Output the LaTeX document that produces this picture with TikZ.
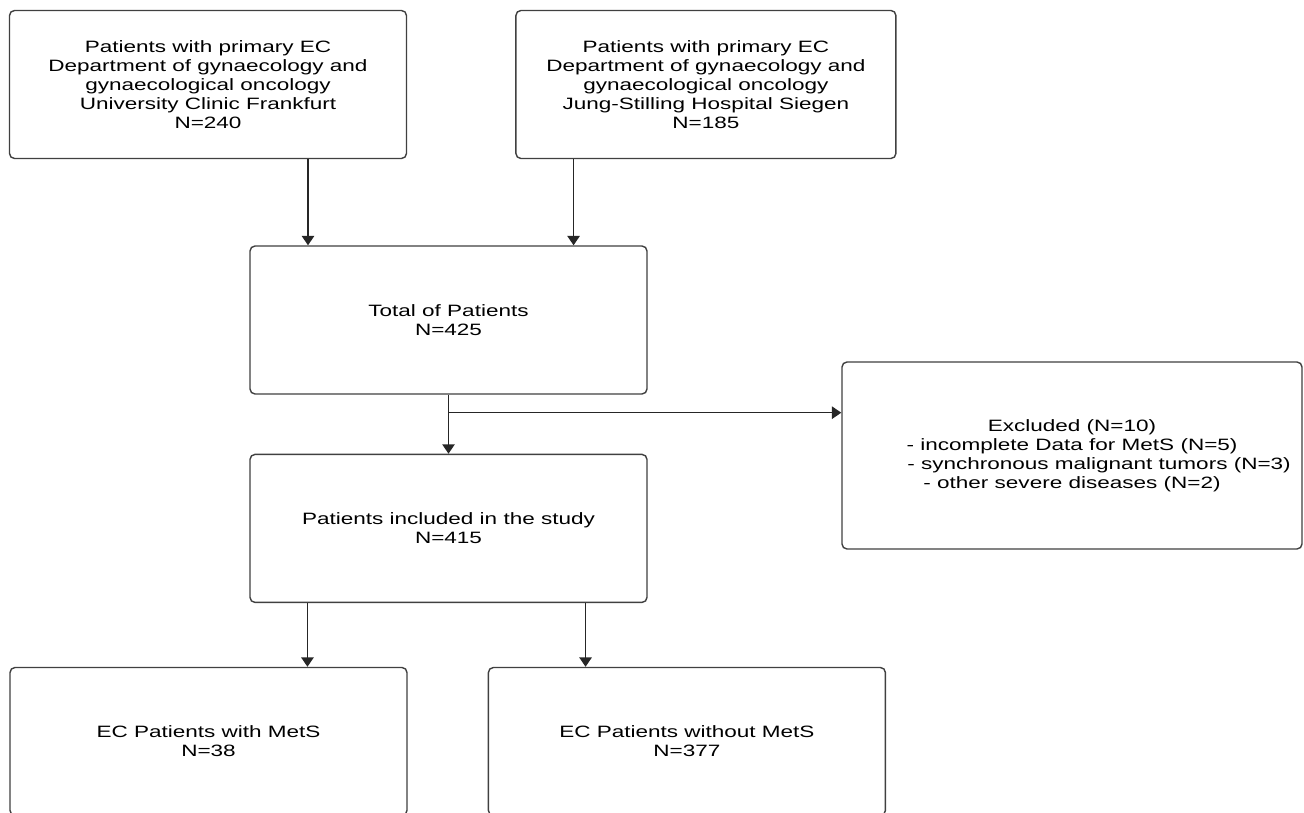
\documentclass[tikz,border=0pt]{standalone}
\usepackage{fontspec}
\setmainfont{Liberation Sans}[FakeStretch=1.37]
\usetikzlibrary{arrows.meta,positioning,calc}

\begin{document}
\begin{tikzpicture}[
        node distance=1.18cm and 2.16cm,
        every node/.style={draw=black!75, rounded corners=1mm, align=center, line width=0.8pt, fill=white, minimum width=7.94cm, minimum height=2.96cm, inner sep=2pt, font=\fontsize{9.35pt}{10.77pt}\selectfont},
        arr/.style={-{Triangle[length=5.3pt,width=7pt]}, line width=0.8pt, black!85}
    ]
    \useasboundingbox (0,0) rectangle (26.08,-16.26);
    \node (frankfurt) at (4.16,-1.69) {Patients with primary EC\\ Department of gynaecology and\\ gynaecological oncology\\ University Clinic Frankfurt\\ N=240};
    \node[minimum width=7.6cm] (siegen) [right=of frankfurt] {Patients with primary EC\\ Department of gynaecology and\\ gynaecological oncology\\ Jung-Stilling Hospital Siegen\\ N=185};
    \node (total) at (8.97,-6.40) {Total of Patients\\ N=425};
    \node (included) [below=of total] {Patients included in the study\\ N=415};
    \node[minimum width=9.2cm, minimum height=3.74cm] (excluded) at (21.44,-9.11) {Excluded (N=10)\\ - incomplete Data for MetS (N=5)\\ \hspace*{1.08cm}- synchronous malignant tumors (N=3)\\ - other severe diseases (N=2)};
    \node (withmets) at (4.17,-14.83) {EC Patients with MetS\\ N=38};
    \node (withoutmets) [right=1.6cm of withmets] {EC Patients without MetS\\ N=377};

    \coordinate (fa) at ($(frankfurt.south west)!0.751!(frankfurt.south east)$);
    \coordinate (sa) at ($(siegen.south west)!0.153!(siegen.south east)$);
    \coordinate (split) at ($(total.south)!0.305!(included.north)$);
    \coordinate (ia) at ($(included.south west)!0.146!(included.south east)$);
    \coordinate (ib) at ($(included.south west)!0.844!(included.south east)$);

    \draw[arr] (fa) -- (fa |- total.north);
    \draw[arr] (sa) -- (sa |- total.north);
    \draw[arr] (total) -- (included);
    \draw[arr] (split) -- (split -| excluded.west);
    \draw[arr] (ia) -- (ia |- withmets.north);
    \draw[arr] (ib) -- (ib |- withoutmets.north);
    \end{tikzpicture}
\end{document}
